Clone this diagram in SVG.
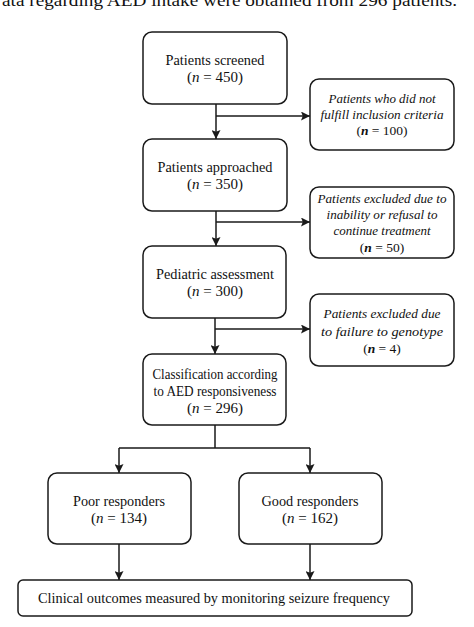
<svg xmlns="http://www.w3.org/2000/svg" width="474" height="627" viewBox="0 0 474 627">
<style>
.box{fill:#fff;stroke:#1a1a1a;stroke-width:1.5}
.t{font-family:"Liberation Serif","Times New Roman",serif;font-size:15px;fill:#111;text-anchor:middle}
.s{font-family:"Liberation Serif","Times New Roman",serif;font-size:13.5px;font-style:italic;fill:#111;text-anchor:middle}
.n{font-style:normal}
.c{fill:none;stroke:#1a1a1a;stroke-width:1.5}
</style>
<defs>
<marker id="ah" viewBox="0 0 10 10" refX="10" refY="5" markerWidth="9" markerHeight="9" markerUnits="userSpaceOnUse" orient="auto">
<path d="M0,0 L10,5 L0,10 L2,5 Z" fill="#1a1a1a"/>
</marker>
</defs>
<rect width="474" height="627" fill="#fff"/>
<text x="2" y="6" font-family="Liberation Serif, serif" font-size="17" fill="#111" textLength="455" lengthAdjust="spacingAndGlyphs">ata regarding AED intake were obtained from 296 patients.</text>
<g id="connectors">
<path class="c" d="M216,104 V139" marker-end="url(#ah)"/>
<path class="c" d="M216,116 H310" marker-end="url(#ah)"/>
<path class="c" d="M216,211 V246" marker-end="url(#ah)"/>
<path class="c" d="M216,222 H310" marker-end="url(#ah)"/>
<path class="c" d="M215,318 V354" marker-end="url(#ah)"/>
<path class="c" d="M215,329 H310" marker-end="url(#ah)"/>
<path class="c" d="M215,425 V448 M119,448 H310"/>
<path class="c" d="M119,448 V473" marker-end="url(#ah)"/>
<path class="c" d="M310,448 V473" marker-end="url(#ah)"/>
<path class="c" d="M119,544 V580" marker-end="url(#ah)"/>
<path class="c" d="M310,544 V580" marker-end="url(#ah)"/>
</g>
<g id="screened">
<rect class="box" x="143" y="32" width="144" height="72" rx="9"/>
<text class="t" x="215" y="65" textLength="99" lengthAdjust="spacingAndGlyphs">Patients screened</text>
<text class="t" x="215" y="82">(<tspan font-style="italic">n</tspan> = 450)</text>
</g>
<g id="excluded1">
<rect class="box" x="310" y="79" width="144" height="71" rx="9"/>
<text class="s" x="382" y="103" textLength="107" lengthAdjust="spacingAndGlyphs">Patients who did not</text>
<text class="s" x="382" y="119" textLength="123" lengthAdjust="spacingAndGlyphs">fulfill inclusion criteria</text>
<text class="s" x="382" y="135"><tspan class="n">(</tspan><tspan font-weight="bold">n</tspan><tspan class="n"> = 100)</tspan></text>
</g>
<g id="approached">
<rect class="box" x="143" y="139" width="144" height="72" rx="9"/>
<text class="t" x="215" y="172" textLength="115" lengthAdjust="spacingAndGlyphs">Patients approached</text>
<text class="t" x="215" y="189">(<tspan font-style="italic">n</tspan> = 350)</text>
</g>
<g id="excluded2">
<rect class="box" x="310" y="187" width="144" height="71" rx="9"/>
<text class="s" x="382" y="203" textLength="129" lengthAdjust="spacingAndGlyphs">Patients excluded due to</text>
<text class="s" x="382" y="219" textLength="111" lengthAdjust="spacingAndGlyphs">inability or refusal to</text>
<text class="s" x="382" y="235" textLength="97" lengthAdjust="spacingAndGlyphs">continue treatment</text>
<text class="s" x="382" y="252"><tspan class="n">(</tspan><tspan font-weight="bold">n</tspan><tspan class="n"> = 50)</tspan></text>
</g>
<g id="pediatric">
<rect class="box" x="143" y="246" width="143" height="72" rx="9"/>
<text class="t" x="215" y="279" textLength="118" lengthAdjust="spacingAndGlyphs">Pediatric assessment</text>
<text class="t" x="215" y="296">(<tspan font-style="italic">n</tspan> = 300)</text>
</g>
<g id="excluded3">
<rect class="box" x="310" y="294" width="144" height="72" rx="9"/>
<text class="s" x="382" y="318" textLength="117" lengthAdjust="spacingAndGlyphs">Patients excluded due</text>
<text class="s" x="382" y="336" textLength="122" lengthAdjust="spacingAndGlyphs">to failure to genotype</text>
<text class="s" x="382" y="353"><tspan class="n">(</tspan><tspan font-weight="bold">n</tspan><tspan class="n"> = 4)</tspan></text>
</g>
<g id="classification">
<rect class="box" x="143" y="354" width="143" height="71" rx="9"/>
<text class="t" x="215" y="379" textLength="125" lengthAdjust="spacingAndGlyphs">Classification according</text>
<text class="t" x="215" y="396" textLength="123" lengthAdjust="spacingAndGlyphs">to AED responsiveness</text>
<text class="t" x="215" y="413">(<tspan font-style="italic">n</tspan> = 296)</text>
</g>
<g id="poor">
<rect class="box" x="48" y="473" width="143" height="71" rx="9"/>
<text class="t" x="119" y="506" textLength="92" lengthAdjust="spacingAndGlyphs">Poor responders</text>
<text class="t" x="119" y="523">(<tspan font-style="italic">n</tspan> = 134)</text>
</g>
<g id="good">
<rect class="box" x="239" y="473" width="143" height="71" rx="9"/>
<text class="t" x="310" y="506" textLength="97" lengthAdjust="spacingAndGlyphs">Good responders</text>
<text class="t" x="310" y="523">(<tspan font-style="italic">n</tspan> = 162)</text>
</g>
<g id="outcomes">
<rect class="box" x="18" y="580" width="394" height="36" rx="5"/>
<text class="t" x="214" y="603" textLength="352" lengthAdjust="spacingAndGlyphs">Clinical outcomes measured by monitoring seizure frequency</text>
</g>
</svg>
